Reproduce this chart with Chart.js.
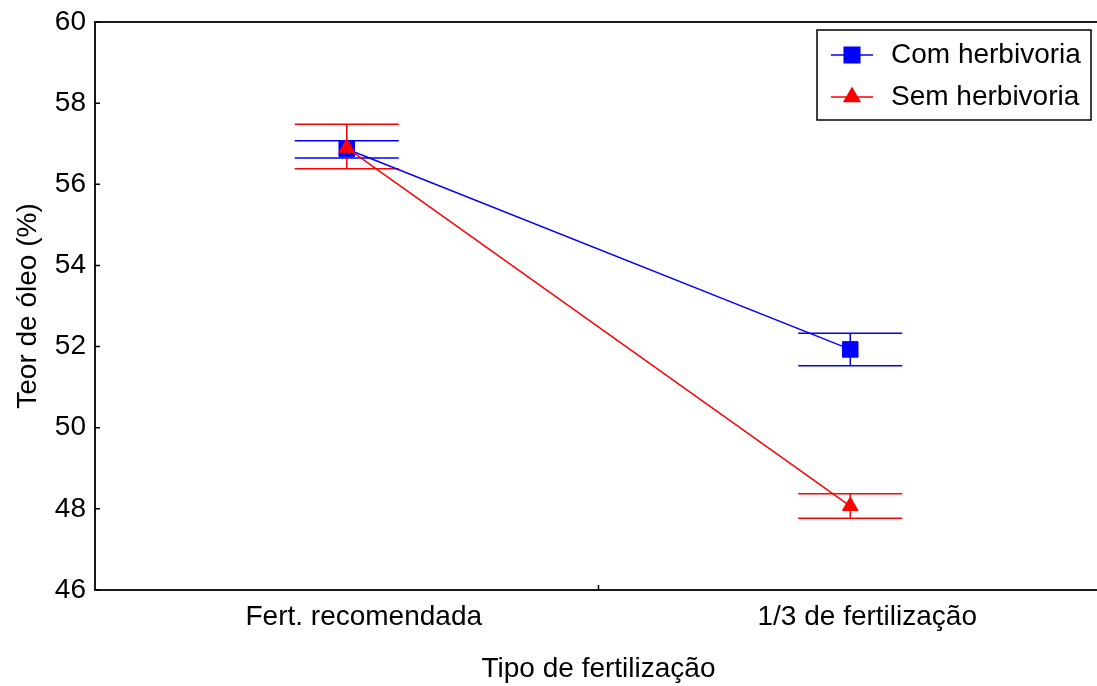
<!DOCTYPE html>
<html>
<head>
<meta charset="utf-8">
<script src="https://cdn.jsdelivr.net/npm/chart.js@4"></script>
<style>
    html, body { margin: 0; padding: 0; background: #fff; }
    #wrap { width: 1097px; height: 686px; overflow: hidden; }
</style>
</head>
<body>
<div id="wrap"><canvas id="chart" width="1102" height="686"></canvas></div>
<script>
// categorias e valores
const categories = ['Fert. recomendada', '1/3 de fertilização'];

const comHerb = [56.87, 51.93];
const comHerbLow = [56.65, 51.53];
const comHerbHigh = [57.07, 52.33];

const semHerb = [56.90, 48.07];
const semHerbLow = [56.38, 47.77];
const semHerbHigh = [57.48, 48.37];

const yTicks = [46, 48, 50, 52, 54, 56, 58, 60];

const FONT = '"Liberation Sans", Arial, sans-serif';
Chart.defaults.font.family = FONT;
Chart.defaults.color = '#000';

const errorBars = [
    { low: comHerbLow, high: comHerbHigh, color: '#0000ff' },
    { low: semHerbLow, high: semHerbHigh, color: '#ff0000' }
];

// barras de erro com traços largos
const errorBarPlugin = {
    id: 'errorBars',
    beforeDatasetsDraw(chart) {
        const ctx = chart.ctx;
        const xs = chart.scales.x;
        const ys = chart.scales.y;
        const half = 52;
        ctx.save();
        ctx.lineWidth = 1.5;
        errorBars.forEach(eb => {
            ctx.strokeStyle = eb.color;
            eb.low.forEach((lo, j) => {
                const x = xs.getPixelForValue(j);
                const yl = ys.getPixelForValue(lo);
                const yh = ys.getPixelForValue(eb.high[j]);
                ctx.beginPath();
                ctx.moveTo(x, yh); ctx.lineTo(x, yl);
                ctx.moveTo(x - half, yh); ctx.lineTo(x + half, yh);
                ctx.moveTo(x - half, yl); ctx.lineTo(x + half, yl);
                ctx.stroke();
            });
        });
        ctx.restore();
    }
};

// moldura, ticks internos e legenda
const framePlugin = {
    id: 'frame',
    afterDraw(chart) {
        const ctx = chart.ctx;
        const a = chart.chartArea;
        const xs = chart.scales.x;
        const ys = chart.scales.y;
        ctx.save();
        ctx.strokeStyle = '#000';
        ctx.lineWidth = 1.8;
        ctx.strokeRect(a.left, a.top, a.right - a.left, a.bottom - a.top);

        ctx.lineWidth = 1.5;
        ctx.beginPath();
        yTicks.forEach(v => {
            const y = ys.getPixelForValue(v);
            ctx.moveTo(a.left, y); ctx.lineTo(a.left + 5, y);
        });
        const xm = xs.getPixelForValue(0.5);
        ctx.moveTo(xm, a.bottom); ctx.lineTo(xm, a.bottom - 5);
        ctx.stroke();

        // legenda
        const lx = 817, ly = 30, lw = 274, lh = 90;
        ctx.fillStyle = '#fff';
        ctx.fillRect(lx, ly, lw, lh);
        ctx.strokeRect(lx, ly, lw, lh);
        const items = [
            { label: 'Com herbivoria', color: '#0000ff', style: 'rect', r: 11 },
            { label: 'Sem herbivoria', color: '#ff0000', style: 'triangle', r: 9 }
        ];
        items.forEach((it, i) => {
            const y = 55 + i * 42;
            ctx.strokeStyle = it.color;
            ctx.lineWidth = 1.5;
            ctx.beginPath();
            ctx.moveTo(831, y); ctx.lineTo(873, y);
            ctx.stroke();
            ctx.fillStyle = it.color;
            Chart.helpers.drawPoint(ctx, { pointStyle: it.style, radius: it.r, borderWidth: 1 }, 852, y);
            ctx.fill();
            ctx.fillStyle = '#000';
            ctx.font = '28px ' + FONT;
            ctx.textBaseline = 'middle';
            ctx.textAlign = 'left';
            ctx.fillText(it.label, 891, y);
        });
        ctx.restore();
    }
};

new Chart(document.getElementById('chart'), {
    type: 'line',
    data: {
        labels: categories,
        datasets: [
            {
                label: 'Com herbivoria',
                data: comHerb,
                borderColor: '#0000ff',
                backgroundColor: '#0000ff',
                borderWidth: 1.5,
                pointStyle: 'rect',
                pointRadius: 11,
                pointBorderWidth: 1,
                tension: 0,
                order: 1
            },
            {
                label: 'Sem herbivoria',
                data: semHerb,
                borderColor: '#ff0000',
                backgroundColor: '#ff0000',
                borderWidth: 1.5,
                pointStyle: 'triangle',
                pointRadius: 9,
                pointBorderWidth: 1,
                tension: 0,
                order: 0
            }
        ]
    },
    options: {
        responsive: false,
        animation: false,
        devicePixelRatio: 1,
        layout: { autoPadding: false, padding: { top: 22, right: 0, left: 0, bottom: 0 } },
        plugins: {
            legend: { display: false },
            tooltip: { enabled: false }
        },
        scales: {
            x: {
                offset: true,
                afterFit: (scale) => {
                    scale.height = 96;
                    scale.paddingLeft = 0;
                    scale.paddingRight = 0;
                },
                grid: { display: false, drawTicks: false },
                border: { display: false },
                ticks: { font: { size: 28 }, color: '#000', padding: 10, maxRotation: 0, labelOffset: 17 },
                title: { display: true, text: 'Tipo de fertilização', font: { size: 28 }, color: '#000', padding: { top: 2, bottom: 0 } }
            },
            y: {
                min: 46,
                max: 60,
                afterFit: (scale) => {
                    scale.width = 95;
                    scale.paddingTop = 0;
                    scale.paddingBottom = 0;
                },
                afterBuildTicks: (scale) => { scale.ticks = yTicks.map(v => ({ value: v })); },
                grid: { display: false, drawTicks: false },
                border: { display: false },
                ticks: { font: { size: 28 }, color: '#000', padding: 9 },
                title: { display: true, text: 'Teor de óleo (%)', font: { size: 28 }, color: '#000', padding: { top: 11, bottom: 0 } }
            }
        }
    },
    plugins: [errorBarPlugin, framePlugin]
});
</script>
</body>
</html>
